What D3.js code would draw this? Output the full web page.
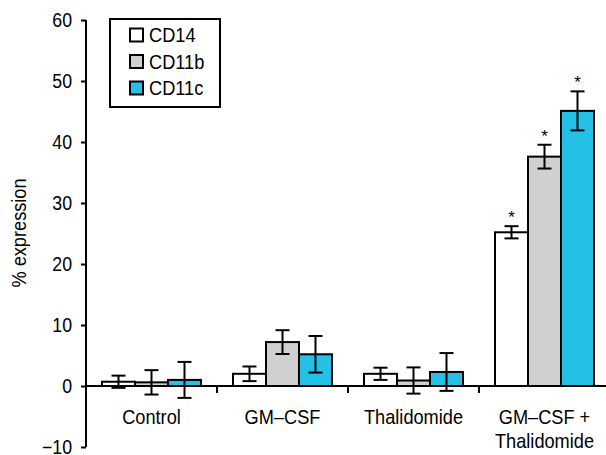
<!DOCTYPE html>
<html>
<head>
<meta charset="utf-8">
<script src="https://cdn.jsdelivr.net/npm/d3@7"></script>
<style>
  body { margin: 0; background: #fff; }
  svg { display: block; font-family: "Liberation Sans", Arial, sans-serif; }
</style>
</head>
<body>
<svg width="606" height="455"></svg>
<script>
// data
var groups = ["Control", "GM–CSF", "Thalidomide", "GM–CSF + Thalidomide"];
var series = ["CD14", "CD11b", "CD11c"];
var cd14 = [0.7, 2.0, 2.0, 25.2];
var cd11b = [0.6, 7.2, 0.9, 37.6];
var cd11c = [1.0, 5.2, 2.3, 45.1];
var cd14Err = [1.0, 1.2, 1.0, 1.0];
var cd11bErr = [2.0, 1.95, 2.15, 1.95];
var cd11cErr = [2.95, 3.0, 3.1, 3.2];
var starred = [false, false, false, true];
var yTicks = [-10, 0, 10, 20, 30, 40, 50, 60];
var colours = ["#ffffff", "#d0d0d0", "#25c0e6"];

var values = [cd14, cd11b, cd11c];
var errs = [cd14Err, cd11bErr, cd11cErr];
var narrow = 0.91; // squeeze text a bit, reference font is condensed

var data = [];
groups.forEach(function(g, i) {
  series.forEach(function(s, j) {
    data.push({ group: g, key: s, value: values[j][i], err: errs[j][i], star: starred[i], idx: j });
  });
});

var svg = d3.select("svg");

var y = d3.scaleLinear().domain([-10, 60]).range([447, 20]);
var x0 = d3.scaleBand().domain(groups).range([86, 610]).paddingInner(0);
var x1 = d3.scaleBand().domain(series).range([0, x0.bandwidth()]).paddingOuter(0.485).paddingInner(0);
var colour = d3.scaleOrdinal().domain(series).range(colours);

// y axis
var yAxis = svg.append("g")
  .attr("transform", "translate(86,0)")
  .call(d3.axisLeft(y).tickValues(yTicks).tickSize(5).tickPadding(9)
    .tickFormat(function(d) { return d < 0 ? "\u2212" + Math.abs(d) : d; }));
yAxis.select(".domain").attr("d", "M0," + y(-10) + "V" + y(60)).attr("stroke", "#000").attr("stroke-width", 2);
yAxis.selectAll(".tick line").attr("stroke", "#000").attr("stroke-width", 2);
yAxis.selectAll(".tick text")
  .attr("x", null)
  .attr("transform", "translate(-14,0) scale(" + narrow + ",1)")
  .attr("font-size", 19.5)
  .attr("fill", "#000");

svg.append("text")
  .attr("transform", "translate(26,233) rotate(-90) scale(" + narrow + ",1)")
  .attr("text-anchor", "middle")
  .attr("font-size", 20)
  .text("% expression");

// bars
var bar = svg.append("g").selectAll("g")
  .data(data)
  .enter()
  .append("g")
  .attr("transform", function(d) { return "translate(" + (x0(d.group) + x1(d.key)) + ",0)"; });

bar.append("rect")
  .attr("x", 0)
  .attr("width", x1.bandwidth())
  .attr("y", function(d) { return y(d.value); })
  .attr("height", function(d) { return y(0) - y(d.value); })
  .attr("fill", function(d) { return colour(d.key); })
  .attr("stroke", "#000")
  .attr("stroke-width", 2);

// x axis line on top of bars
var xAxis = svg.append("g")
  .attr("transform", "translate(0," + y(0) + ")");
xAxis.append("line")
  .attr("x1", 86).attr("x2", 610)
  .attr("stroke", "#000").attr("stroke-width", 2);
xAxis.selectAll(".sep")
  .data(groups.slice(1))
  .enter()
  .append("line")
  .attr("x1", function(d) { return x0(d); })
  .attr("x2", function(d) { return x0(d); })
  .attr("y1", 0).attr("y2", 7)
  .attr("stroke", "#000").attr("stroke-width", 2);

// error bars
var cx = x1.bandwidth() / 2;
bar.append("line")
  .attr("x1", cx).attr("x2", cx)
  .attr("y1", function(d) { return y(d.value + d.err); })
  .attr("y2", function(d) { return y(d.value - d.err); })
  .attr("stroke", "#000").attr("stroke-width", 2);
[1, -1].forEach(function(sign) {
  bar.append("line")
    .attr("x1", cx - 7).attr("x2", cx + 7)
    .attr("y1", function(d) { return y(d.value + sign * d.err); })
    .attr("y2", function(d) { return y(d.value + sign * d.err); })
    .attr("stroke", "#000").attr("stroke-width", 2);
});

bar.filter(function(d) { return d.star; })
  .append("text")
  .attr("x", cx)
  .attr("y", function(d) { return y(d.value + d.err) - 3; })
  .attr("text-anchor", "middle")
  .attr("font-size", 17)
  .text("*");

// category labels
svg.append("g").selectAll("text")
  .data(groups)
  .enter()
  .append("text")
  .attr("transform", function(d) {
    return "translate(" + (x0(d) + x0.bandwidth() / 2) + ",424) scale(" + narrow + ",1)";
  })
  .attr("text-anchor", "middle")
  .attr("font-size", 20)
  .each(function(d) {
    var parts = d === "GM–CSF + Thalidomide" ? ["GM–CSF +", "Thalidomide"] : [d];
    var t = d3.select(this);
    parts.forEach(function(p, i) {
      t.append("tspan")
        .attr("x", 0)
        .attr("dy", i === 0 ? 0 : 24)
        .text(p);
    });
  });

// legend
var legend = svg.append("g");
legend.append("rect")
  .attr("x", 110).attr("y", 19)
  .attr("width", 110).attr("height", 88)
  .attr("fill", "#fff").attr("stroke", "#000").attr("stroke-width", 2);
var item = legend.selectAll(".item")
  .data(series)
  .enter()
  .append("g")
  .attr("transform", function(d, i) { return "translate(130," + (35 + i * 26.5) + ")"; });
item.append("rect")
  .attr("x", 0).attr("y", -6.5)
  .attr("width", 13).attr("height", 13)
  .attr("fill", colour)
  .attr("stroke", "#000").attr("stroke-width", 2);
item.append("text")
  .attr("transform", "translate(19,0) scale(" + narrow + ",1)")
  .attr("dy", "0.36em")
  .attr("font-size", 20)
  .text(function(d) { return d; });
</script>
</body>
</html>
